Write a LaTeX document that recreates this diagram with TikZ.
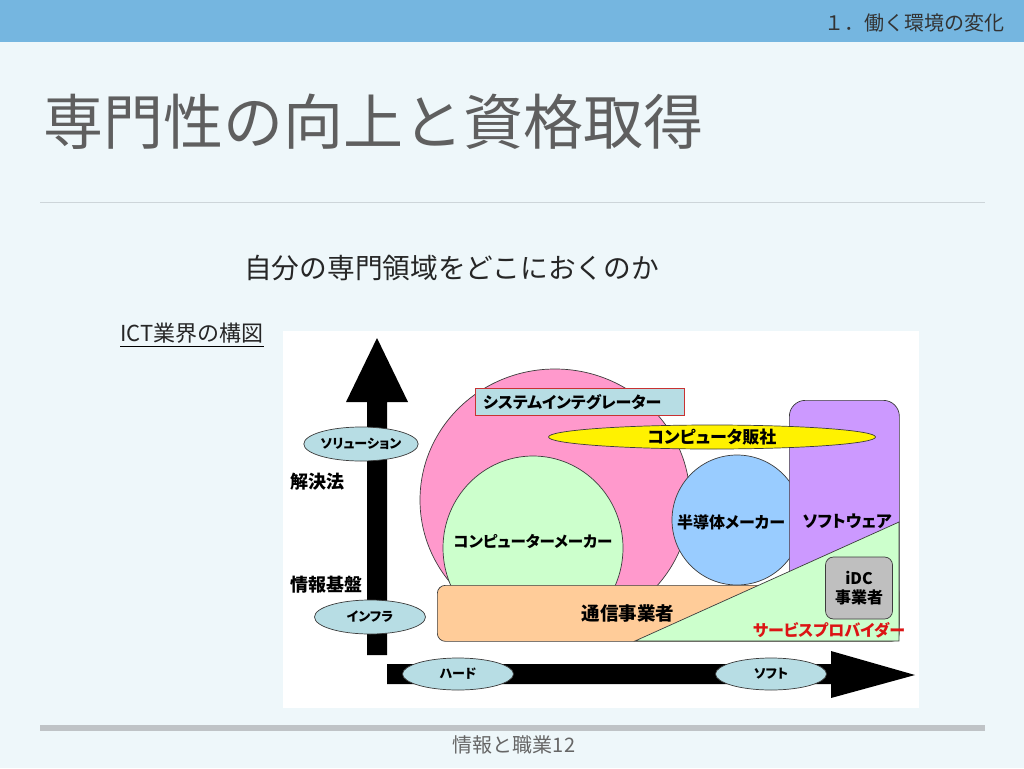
\documentclass[tikz,border=0pt]{standalone}
\usepackage{fontspec}
\setmainfont{Noto Sans CJK JP}
\newfontfamily\zufont{Noto Sans CJK JP}[RawFeature=+palt]
\usepackage{tikz}
\usetikzlibrary{shapes.geometric,positioning}
\usepackage{xcolor}
\definecolor{barblue}{RGB}{117,182,224}
\definecolor{pagebg}{RGB}{238,247,250}
\definecolor{rulegrey}{RGB}{205,213,217}
\definecolor{footgrey}{RGB}{191,195,198}
\definecolor{titlegrey}{RGB}{95,95,95}
\definecolor{tagblue}{RGB}{183,221,228}
\definecolor{sipink}{RGB}{255,153,204}
\definecolor{makergreen}{RGB}{204,255,204}
\definecolor{semiblue}{RGB}{153,204,255}
\definecolor{softpurple}{RGB}{204,153,255}
\definecolor{netorange}{RGB}{255,204,153}
\definecolor{idcgrey}{RGB}{191,191,191}
\definecolor{edgegrey}{RGB}{60,60,60}
\definecolor{sired}{RGB}{200,50,50}
\definecolor{sptext}{RGB}{220,20,20}

\begin{document}
\begin{tikzpicture}[x=1pt,y=-1pt,
    blob/.style={draw=edgegrey, line width=0.7pt, inner sep=0pt},
    oval/.style={blob, ellipse},
    tag/.style={oval, fill=tagblue, minimum width=111pt, minimum height=34pt,
        font=\zufont\bfseries\fontsize{13}{13}\selectfont},
    lbl/.style={inner sep=0pt, font=\zufont\bfseries\fontsize{16}{16}\selectfont}]
    % Slide
    \fill[pagebg] (0,0) rectangle (1024,768);
    \useasboundingbox (0,0) rectangle (1024,768);
    \fill[barblue] (0,0) rectangle (1024,42);
    \node[anchor=east, inner sep=0pt, text=black!80, font=\fontsize{20}{20}\selectfont] (section) at (1005,23) {１．働く環境の変化};
    \node[anchor=west, inner sep=0pt, text=titlegrey, font=\fontsize{60}{61}\selectfont] (title) at (43,122) {専門性の向上と資格取得};
    \draw[rulegrey, line width=1pt] (40,202) -- (985,202);
    \node[anchor=west, inner sep=0pt, text=black!85, font=\fontsize{27.7}{28}\selectfont] (question) at (244,268) {自分の専門領域をどこにおくのか};
    \node[anchor=west, inner sep=0pt, text=black!85, font=\fontsize{22}{22}\selectfont] (ict) at (120,333) {ICT業界の構図};
    \draw[line width=0.8pt] (ict.west |- 0,346) -- (ict.east |- 0,346);
    \fill[footgrey] (40,725) rectangle (985,731);
    \node[inner sep=0pt, text=black!60, font=\fontsize{20}{20}\selectfont] (footer) at (514,745) {情報と職業12};

    % Panel
    \fill[white] (283,331) rectangle (919,708);

    % Axes
    \fill (367,655) -- (367,402) -- (346,402) -- (377,338) -- (408,402) -- (387,402) -- (387,655) -- cycle;
    \fill (387,664) -- (831,664) -- (831,651) -- (915,675) -- (831,698) -- (831,684) -- (387,684) -- cycle;
    \node[tag] (solution) at (361,444) {ソリューション};
    \node[tag] (infra) at (370,617) {インフラ};
    \node[tag, minimum height=32pt] (hard) at (458,674) {ハード};
    \node[tag, minimum height=32pt] (soft) at (771,674) {ソフト};
    \node[lbl, anchor=west, font=\zufont\bfseries\fontsize{18}{18}\selectfont] (kaiketsu) at (290,482) {解決法};
    \node[lbl, anchor=west, font=\zufont\bfseries\fontsize{18}{18}\selectfont] (kiban) at (290,585) {情報基盤};

    % System integrator and makers
    \node[oval, fill=sipink, minimum width=270pt, minimum height=262pt] (sibubble) at (555,500) {};
    \node[oval, fill=makergreen, minimum width=180pt, minimum height=184pt] (maker) at (533,548) {};
    \node[lbl, font=\zufont\bfseries\fontsize{15.5}{16}\selectfont] (makerlabel) at (533,542) {コンピューターメーカー};
    \node[blob, draw=sired, fill=tagblue, minimum width=209pt, minimum height=27pt, anchor=north west] (sirect) at (475,388) {};
    \node[lbl, anchor=west] (silabel) at (483,402) {システムインテグレーター};
    \node[oval, fill=semiblue, minimum width=130pt, minimum height=130pt] (semi) at (737,520) {};
    \node[lbl] (semilabel) at (731,522) {半導体メーカー};

    % Software
    \node[blob, fill=softpurple, rounded corners=16pt, minimum width=110pt, minimum height=238pt, anchor=north west] (software) at (789,400) {};
    \node[lbl, font=\zufont\bfseries\fontsize{16.5}{17}\selectfont] (softlabel) at (847,521) {ソフトウェア};
    \node[oval, fill=yellow, minimum width=327pt, minimum height=24pt, font=\zufont\bfseries\fontsize{17}{17}\selectfont] (dealer) at (712,437) {コンピュータ販社};

    % Carriers and service providers
    \node[blob, fill=netorange, rounded corners=8pt, minimum width=462pt, minimum height=56pt, anchor=north west] (carrier) at (437,585) {};
    \node[lbl, font=\zufont\bfseries\fontsize{18.5}{19}\selectfont] (carrierlabel) at (628,613) {通信事業者};
    \filldraw[fill=makergreen, draw=edgegrey, line width=0.7pt] (635,641) -- (899,522) -- (899,641) -- cycle;
    \node[blob, fill=idcgrey, rounded corners=8pt, minimum width=67pt, minimum height=62pt, align=center,
        font=\zufont\bfseries\fontsize{16}{19}\selectfont] (idc) at (859,588) {iDC\\事業者};
    \node[lbl, text=sptext] (provider) at (829,630) {サービスプロバイダー};
\end{tikzpicture}
\end{document}
